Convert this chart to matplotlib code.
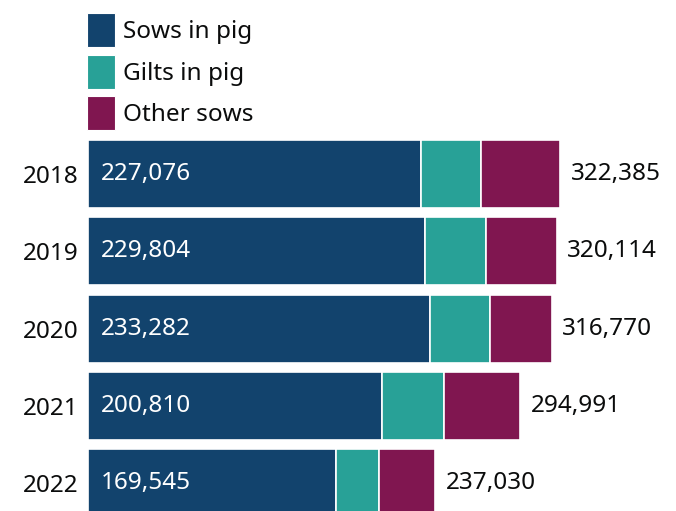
import numpy as np
import matplotlib.pyplot as plt
from matplotlib.patches import Patch

plt.rcParams['font.family'] = ['Noto Sans', 'DejaVu Sans']

years = ['2018', '2019', '2020', '2021', '2022']
sows_in_pig = np.array([227076, 229804, 233282, 200810, 169545])
gilts_in_pig = np.array([41274, 42036, 41283, 42345, 29021])
totals = np.array([322385, 320114, 316770, 294991, 237030])
other_sows = totals - sows_in_pig - gilts_in_pig

colors = ['#12436D', '#28A197', '#801650']
labels = ['Sows in pig', 'Gilts in pig', 'Other sows']
text_col = '#0b0c0c'
fs = 17.5

fig = plt.figure(figsize=(6.76, 5.11), dpi=100)
ax = fig.add_axes([88 / 676, 0, 1 - 88 / 676, 1])

y = np.arange(len(years))
h = 0.88
ax.barh(y, sows_in_pig, height=h, color=colors[0], edgecolor='white', linewidth=1.2)
ax.barh(y, gilts_in_pig, left=sows_in_pig, height=h, color=colors[1], edgecolor='white', linewidth=1.2)
ax.barh(y, other_sows, left=sows_in_pig + gilts_in_pig, height=h, color=colors[2], edgecolor='white', linewidth=1.2)

for i in range(len(years)):
    ax.annotate(f'{sows_in_pig[i]:,}', (0, y[i]), xytext=(9, 0), textcoords='offset points',
                va='center', ha='left', color='white', fontsize=fs)
    ax.annotate(f'{totals[i]:,}', (totals[i], y[i]), xytext=(7.5, 0), textcoords='offset points',
                va='center', ha='left', color=text_col, fontsize=fs)

# px per unit ~0.0014645
ax.set_xlim(0, 588 / 0.0014645)
step = 77.3
ax.set_ylim((511 - 174) / step, -174 / step)
ax.set_yticks(y)
ax.set_yticklabels(years, fontsize=fs, color=text_col)
ax.tick_params(axis='y', length=0, pad=7)
ax.set_xticks([])
for s in ax.spines.values():
    s.set_visible(False)

handles = [Patch(facecolor=c, edgecolor='white', linewidth=0.8) for c in colors]
fig.legend(handles, labels, loc='upper left', bbox_to_anchor=(87 / 676, 1 - 13 / 511),
           frameon=False, fontsize=fs, handlelength=1.14, handleheight=1.78,
           labelspacing=0.31, handletextpad=0.35, borderpad=0, borderaxespad=0,
           labelcolor=text_col)

fig.savefig('out.png', dpi=100)
